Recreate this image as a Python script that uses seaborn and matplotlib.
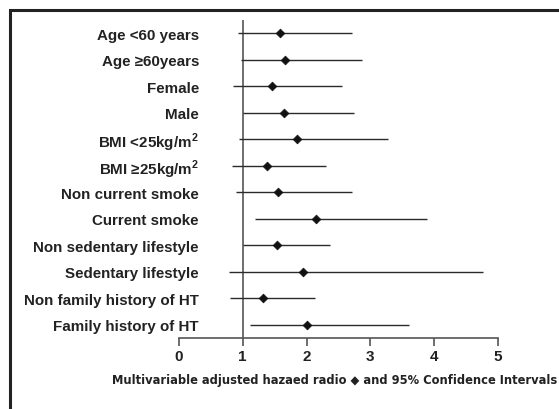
import matplotlib
matplotlib.use("Agg")
import matplotlib.pyplot as plt
import seaborn as sns
import pandas as pd
from matplotlib.patches import Rectangle

categories = ["Age <60 years", "Age \u226560years", "Female", "Male",
              "BMI <25kg/m$^\\mathbf{2}$", "BMI \u226525kg/m$^\\mathbf{2}$",
              "Non current smoke", "Current smoke", "Non sedentary lifestyle",
              "Sedentary lifestyle", "Non family history of HT", "Family history of HT"]
hr = [1.59, 1.67, 1.46, 1.65, 1.85, 1.38, 1.56, 2.15, 1.54, 1.94, 1.31, 2.00]
ci_low = [0.93, 0.97, 0.84, 1.01, 0.94, 0.83, 0.90, 1.19, 1.00, 0.78, 0.80, 1.11]
ci_high = [2.71, 2.87, 2.56, 2.74, 3.28, 2.31, 2.71, 3.88, 2.36, 4.77, 2.14, 3.61]
xticks = [0, 1, 2, 3, 4, 5]

sns.set_theme(style="white")
plt.rcParams['font.family'] = ['Liberation Sans', 'DejaVu Sans']
plt.rcParams['mathtext.fontset'] = 'custom'
plt.rcParams['mathtext.rm'] = 'Liberation Sans:bold'
plt.rcParams['mathtext.bf'] = 'Liberation Sans:bold'

df = pd.DataFrame({"cat": categories, "hr": hr, "lo": ci_low, "hi": ci_high})
df["pos"] = range(len(df))

fig = plt.figure(figsize=(5.59, 4.10), dpi=100)
ax = fig.add_axes([0.320, 0.173, 0.571, 0.776])

ax.hlines(df["pos"], df["lo"], df["hi"], color="#2a2a2a", lw=1.0, zorder=2)
sns.scatterplot(data=df, x="hr", y="pos", marker="D", s=20, color="#111111",
                edgecolor="#111111", linewidth=0.5, ax=ax, zorder=3, legend=False)
ax.axvline(1, color="#555555", lw=1.2, zorder=1)

ax.set_xlim(0, 5)
ax.set_ylim(len(df) - 0.5, -0.5)
ax.set_xticks(xticks)
ax.set_xticklabels([str(t) for t in xticks], fontsize=11, fontweight="bold", color="#222222")
ax.set_yticks(df["pos"])
ax.set_yticklabels(categories, fontsize=10.9, fontweight="bold", color="#222222")
ax.tick_params(axis="y", length=0, pad=-14.4)
ax.tick_params(axis="x", direction="out", length=6, width=1.2, color="#555555", pad=2, bottom=True)
for s in ["top", "right", "left"]:
    ax.spines[s].set_visible(False)
ax.spines["bottom"].set_color("#555555")
ax.spines["bottom"].set_linewidth(1.2)
ax.set_xlabel("")
ax.set_ylabel("")

fig.text(0.996, 0.073, "Multivariable adjusted hazaed radio \u25c6 and 95% Confidence Intervals",
         ha="right", va="center", fontsize=8.3, fontweight="bold", color="#222222",
         family=["DejaVu Sans"])

fig.patches.append(Rectangle((10 / 559, -0.1), 1.2, 1 - 11 / 410 + 0.1,
                             transform=fig.transFigure, fill=False,
                             edgecolor="#222222", lw=2.2))

fig.savefig("out.png", dpi=100)
